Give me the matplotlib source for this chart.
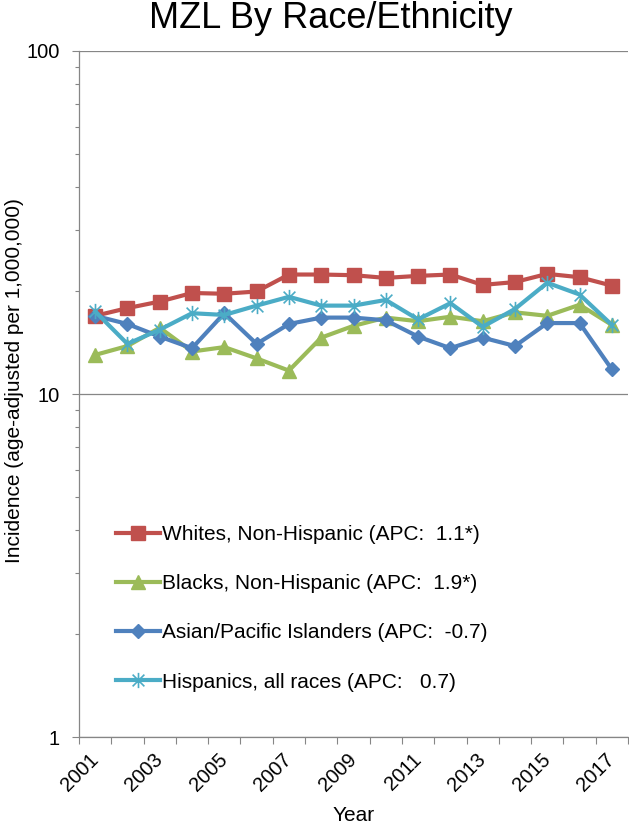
import matplotlib
matplotlib.use('Agg')
import matplotlib.pyplot as plt
import matplotlib.ticker as ticker
from matplotlib.path import Path

plt.rcParams['font.family'] = ['Liberation Sans', 'DejaVu Sans']

years = list(range(2001, 2018))
whites = [16.9, 17.8, 18.6, 19.7, 19.6, 19.9, 22.3, 22.3, 22.2, 21.8, 22.1, 22.3, 20.8, 21.2, 22.4, 21.9, 20.7]
blacks = [13.0, 13.8, 15.6, 13.3, 13.7, 12.7, 11.7, 14.6, 15.8, 16.7, 16.3, 16.8, 16.3, 17.3, 16.9, 18.2, 15.9]
asians = [16.9, 16.0, 14.7, 13.6, 17.2, 14.0, 16.0, 16.7, 16.7, 16.4, 14.7, 13.6, 14.6, 13.8, 16.1, 16.1, 11.8]
hispanics = [17.4, 14.0, 15.4, 17.2, 17.0, 18.1, 19.2, 18.1, 18.1, 18.8, 16.5, 18.4, 15.7, 17.7, 21.1, 19.5, 15.9]

labels = ['Whites, Non-Hispanic (APC:  1.1*)',
          'Blacks, Non-Hispanic (APC:  1.9*)',
          'Asian/Pacific Islanders (APC:  -0.7)',
          'Hispanics, all races (APC:   0.7)']

# excel style star marker: an X with a vertical bar through it
star = Path([(-1, -1), (1, 1), (-1, 1), (1, -1), (0, -1.3), (0, 1.3)],
            [Path.MOVETO, Path.LINETO, Path.MOVETO, Path.LINETO, Path.MOVETO, Path.LINETO])

fig = plt.figure(figsize=(6.29, 8.30), dpi=100)
ax = fig.add_axes([79 / 629, 1 - 737 / 830, 549 / 629, 686 / 830])

ax.plot(years, whites, color='#C0504D', lw=3, marker='s', ms=10.5, label=labels[0])
ax.plot(years, blacks, color='#9BBB59', lw=3, marker='^', ms=10.5, label=labels[1])
ax.plot(years, asians, color='#4F81BD', lw=3, marker='D', ms=7.5, label=labels[2])
ax.plot(years, hispanics, color='#4BACC6', lw=3, marker=star, ms=11, mew=1.2,
        mec='#4BACC6', label=labels[3])

ax.set_yscale('log')
ax.set_ylim(1, 100)
ax.set_xlim(years[0] - 0.5, years[-1] + 0.5)

ax.yaxis.set_major_formatter(ticker.FuncFormatter(lambda v, p: f'{v:g}'))
ax.yaxis.set_minor_formatter(ticker.NullFormatter())
ax.tick_params(axis='y', which='major', direction='out', length=5, width=0.8,
               color='#868686', labelsize=14.5, pad=9)
ax.tick_params(axis='y', which='minor', direction='out', length=3, width=0.8, color='#868686')
ax.grid(axis='y', which='major', color='#868686', lw=0.9)

ax.set_xticks(years[::2])
ax.set_xticklabels([str(y) for y in years[::2]], rotation=45, ha='right',
                   va='center', rotation_mode='anchor')
ax.xaxis.set_minor_locator(ticker.FixedLocator([y - 0.5 for y in years] + [years[-1] + 0.5]))
ax.tick_params(axis='x', which='major', length=0, labelsize=14.5, pad=14)
ax.tick_params(axis='x', which='minor', direction='out', length=5, width=0.8, color='#868686')

for side in ['top', 'right']:
    ax.spines[side].set_visible(False)
for side in ['left', 'bottom']:
    ax.spines[side].set_color('#868686')
    ax.spines[side].set_linewidth(0.9)

ax.set_ylabel('Incidence (age-adjusted per 1,000,000)', fontsize=15)
ax.yaxis.set_label_coords(-55 / 549, 0.52)
ax.set_xlabel('Year', fontsize=15, labelpad=8)

fig.text(331 / 629, 1 - 28 / 830, 'MZL By Race/Ethnicity', fontsize=26,
         ha='center', va='baseline')

ax.legend(loc='upper left', bbox_to_anchor=(116 / 629, 1 - 525 / 830),
          bbox_transform=fig.transFigure, frameon=False, fontsize=15,
          handlelength=2.1, handletextpad=0.1, labelspacing=1.45,
          borderpad=0, borderaxespad=0)

fig.savefig('out.png', dpi=100)
plt.close('all')
